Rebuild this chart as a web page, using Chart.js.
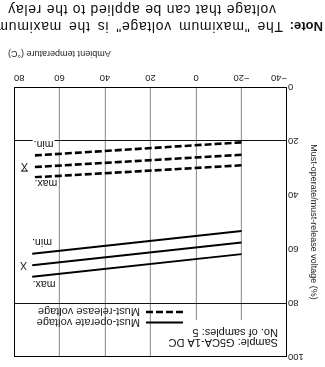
<!DOCTYPE html>
<html>
<head>
<meta charset="utf-8">
<script src="https://cdn.jsdelivr.net/npm/chart.js@4.4.1/dist/chart.umd.min.js"></script>
<style>
  html, body { margin:0; padding:0; background:#fff; overflow:hidden; }
  #wrap { position:absolute; left:0; top:0; width:325px; height:367px; overflow:hidden;
          transform:rotate(180deg); transform-origin:50% 50%; background:#fff; }
  #c { position:absolute; left:0; top:0; }
  #xtitle { position:absolute; right:8px; top:308px; font:9px "Liberation Sans", Arial, sans-serif;
            line-height:11px; color:#222; white-space:nowrap; }
  #note { position:absolute; left:2px; top:332px; font:14px "Liberation Sans", Arial, sans-serif;
          line-height:17px; color:#111; white-space:nowrap; letter-spacing:0.7px; }
  #note .l1 { word-spacing:2.5px; }
  #note b { font-size:13px; letter-spacing:0; word-spacing:0; }
  #note .l2 { padding-left:47px; }
</style>
</head>
<body>
<div id="wrap">
  <canvas id="c" width="325" height="367"></canvas>
  <div id="xtitle">Ambient temperature (°C)</div>
  <div id="note"><span class="l1"><b>Note:</b> The "maximum voltage" is the maximum</span><br><span class="l2">voltage that can be applied to the relay</span></div>
</div>
<script>
// ---- data ----
const temperatures = [-20, 72];                 // ambient temperature (°C)
const operateMin  = [53.3, 61.8];               // must-operate voltage (%)
const operateMean = [57.6, 66.0];
const operateMax  = [61.9, 70.3];
const releaseMin  = [20.5, 25.4];               // must-release voltage (%)
const releaseMean = [25.1, 29.7];
const releaseMax  = [29.0, 33.5];
const xTicks = [-40, -20, 0, 20, 40, 60, 80];
const yTicks = [0, 20, 40, 60, 80, 100];
const sampleText = ['Sample: G5CA-1A DC', 'No. of samples: 5'];
const legendLabels = ['Must-operate voltage', 'Must-release voltage'];
// annotation labels: [text, temperature, voltage, overbar]
const curveLabels = [
  ['min.', 67.0, 20.9, false], ['X', 75.4, 29.1, true], ['max.', 66.0, 35.7, false],
  ['min.', 67.7, 57.5, false], ['X', 75.8, 65.9, false], ['max.', 66.8, 72.8, false]
];

const pts = arr => temperatures.map((t, i) => ({x: t, y: arr[i]}));
const solid = (d) => ({data: pts(d), borderColor:'#000', borderWidth:2, pointRadius:0, tension:0, fill:false});
const dashed = (d) => ({data: pts(d), borderColor:'#000', borderWidth:2.6, borderDash:[7,3], pointRadius:0, tension:0, fill:false});

const FONT = '"Liberation Sans", Arial, sans-serif';

const overlay = {
  id: 'overlay',
  afterDatasetsDraw(chart) {
    const {ctx, chartArea: a, scales: {x, y}} = chart;
    ctx.save();
    // legend white box (hides grid lines behind legend text)
    ctx.fillStyle = '#fff';
    ctx.fillRect(a.left + 2, a.top + 1, 130, 36);
    // curve labels
    ctx.font = '10.5px ' + FONT;
    ctx.textAlign = 'center';
    ctx.textBaseline = 'middle';
    curveLabels.forEach(([t, tx, ty, bar]) => {
      const px = x.getPixelForValue(tx), py = y.getPixelForValue(ty);
      const w = ctx.measureText(t).width;
      ctx.fillStyle = '#fff';
      ctx.fillRect(px - w / 2 - 1, py - 5, w + 2, 10);
      ctx.fillStyle = '#111';
      ctx.fillText(t, px, py);
      if (bar) {
        ctx.strokeStyle = '#111'; ctx.lineWidth = 1;
        ctx.beginPath(); ctx.moveTo(px - w / 2, py - 5.5); ctx.lineTo(px + w / 2, py - 5.5); ctx.stroke();
      }
    });
    // sample info
    ctx.textAlign = 'left';
    ctx.fillStyle = '#111';
    ctx.font = '11px ' + FONT;
    ctx.fillText(sampleText[0], a.left + 9, a.top + 15);
    ctx.fillText(sampleText[1], a.left + 9, a.top + 24.5);
    // legend
    ctx.font = '11px ' + FONT;
    ctx.strokeStyle = '#000';
    const ly = [a.top + 34.5, a.top + 45];
    ctx.lineWidth = 2; ctx.setLineDash([]);
    ctx.beginPath(); ctx.moveTo(a.left + 104, ly[0]); ctx.lineTo(a.left + 141, ly[0]); ctx.stroke();
    ctx.lineWidth = 2.6; ctx.setLineDash([7, 3]);
    ctx.beginPath(); ctx.moveTo(a.left + 104, ly[1]); ctx.lineTo(a.left + 141, ly[1]); ctx.stroke();
    ctx.setLineDash([]);
    ctx.fillStyle = '#222';
    ctx.fillText(legendLabels[0], a.left + 147, ly[0] + 0.5);
    ctx.fillText(legendLabels[1], a.left + 147, ly[1] + 0.5);
    // frame
    ctx.strokeStyle = '#000'; ctx.lineWidth = 1;
    ctx.strokeRect(Math.round(a.left) + 0.5, Math.round(a.top) + 0.5,
                   Math.round(a.right - a.left) - 1, Math.round(a.bottom - a.top) - 1);
    ctx.restore();
  }
};

new Chart(document.getElementById('c'), {
  type: 'line',
  data: {
    datasets: [solid(operateMin), solid(operateMean), solid(operateMax),
               dashed(releaseMin), dashed(releaseMean), dashed(releaseMax)]
  },
  options: {
    responsive: false,
    animation: false,
    devicePixelRatio: 1,
    layout: { padding: { top: 10, right: 14, left: 0, bottom: 0 } },
    plugins: { legend: { display: false }, tooltip: { enabled: false } },
    scales: {
      x: {
        type: 'linear', min: xTicks[0], max: xTicks[xTicks.length - 1],
        afterBuildTicks: s => { s.ticks = xTicks.map(v => ({value: v})); },
        afterFit: s => { s.height = 87; },
        ticks: { align: 'inner', padding: 4, color: '#222', font: { size: 9.5, family: FONT },
                 callback: v => String(v).replace('-', '\u2212') },
        grid: { drawTicks: false, color: c => (c.tick && (c.tick.value === -40 || c.tick.value === 80)) ? 'transparent' : '#9a9a9a', lineWidth: 1.2 },
        border: { display: false }
      },
      y: {
        type: 'linear', min: 0, max: 100,
        afterBuildTicks: s => { s.ticks = yTicks.map(v => ({value: v})); },
        afterFit: s => { s.width = 38; },
        ticks: { padding: 1, color: '#222', font: { size: 9.5, family: FONT } },
        grid: { drawTicks: false, color: c => (c.tick && (c.tick.value === 20 || c.tick.value === 80)) ? '#111' : 'transparent', lineWidth: 1 },
        border: { display: false },
        title: { display: true, text: 'Must-operate/must-release voltage (%)', color: '#222',
                 font: { size: 9, family: FONT }, padding: { top: 6, bottom: 0 } }
      }
    }
  },
  plugins: [overlay]
});
</script>
</body>
</html>
